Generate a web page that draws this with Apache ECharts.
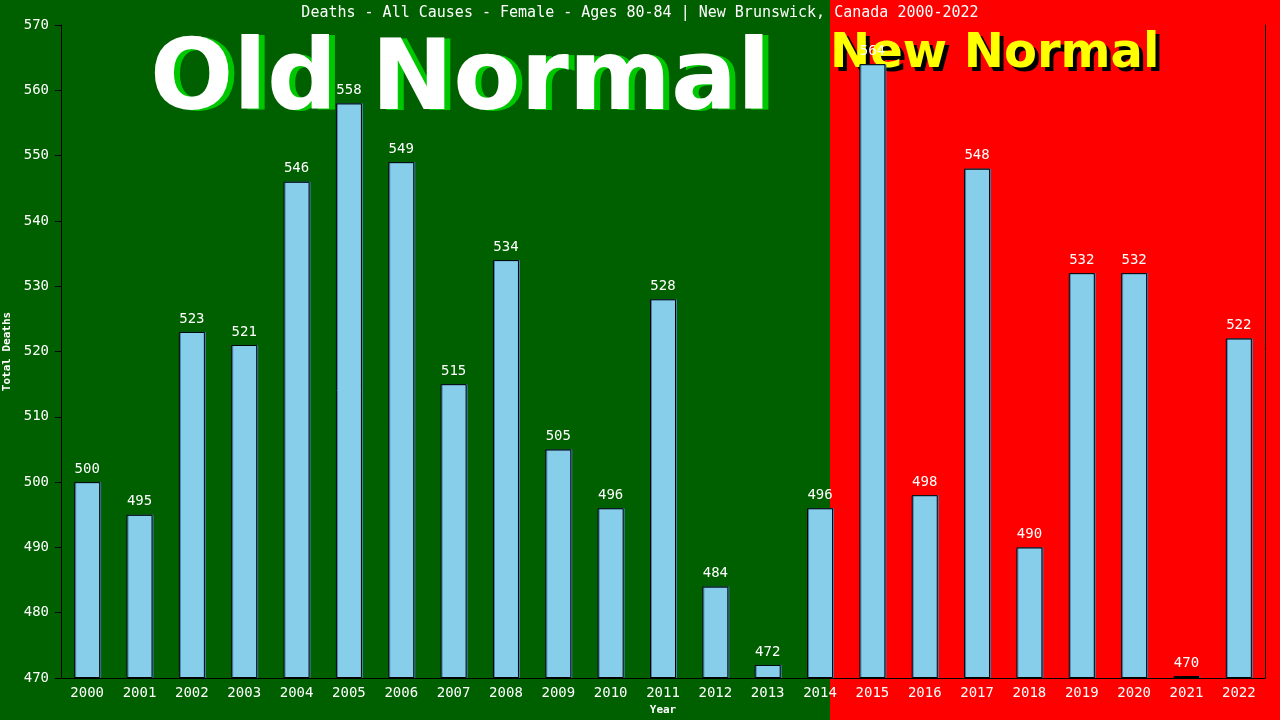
<!DOCTYPE html>
<html>
<head>
<meta charset="utf-8">
<script src="https://cdn.jsdelivr.net/npm/echarts@6/dist/echarts.min.js"></script>
<style>html,body{margin:0;padding:0;}#c{width:1280px;height:720px;}</style>
</head>
<body>
<div id="c"></div>
<script>
const titleText = 'Deaths - All Causes - Female - Ages 80-84 | New Brunswick, Canada 2000-2022';
const years = ['2000','2001','2002','2003','2004','2005','2006','2007','2008','2009','2010','2011','2012','2013','2014','2015','2016','2017','2018','2019','2020','2021','2022'];
const deaths = [500,495,523,521,546,558,549,515,534,505,496,528,484,472,496,564,498,548,490,532,532,470,522];
const yTicks = [470,480,490,500,510,520,530,540,550,560,570];

const yMin = yTicks[0], yMax = yTicks[yTicks.length-1];
const mono = '"DejaVu Sans Mono", "Liberation Mono", monospace';
const bigFont = '"DejaVu Sans", Verdana, sans-serif';
const chart = echarts.init(document.getElementById('c'));
chart.setOption({
  animation: false,
  backgroundColor: {
    type: 'linear', x: 0, y: 0, x2: 1, y2: 0,
    colorStops: [
      {offset: 0, color: '#006000'},
      {offset: 830/1280, color: '#006000'},
      {offset: 830/1280, color: '#ff0000'},
      {offset: 1, color: '#ff0000'}
    ]
  },
  title: {
    text: titleText, left: 'center', top: 1,
    textStyle: {color: '#fff', fontFamily: mono, fontSize: 15, fontWeight: 'normal'}
  },
  graphic: [
    {type: 'text', left: 156, top: 36, z: 1,
     style: {text: 'Old Normal', fill: '#00c800', font: 'bold 98px ' + bigFont}},
    {type: 'text', left: 150, top: 35, z: 1,
     style: {text: 'Old Normal', fill: '#ffffff', font: 'bold 98px ' + bigFont}},
    {type: 'text', left: 834, top: 35, z: 1,
     style: {text: 'New Normal', fill: '#000000', font: 'bold 48px ' + bigFont}},
    {type: 'text', left: 830, top: 31, z: 1,
     style: {text: 'New Normal', fill: '#ffff00', font: 'bold 48px ' + bigFont}}
  ],
  grid: {left: 61, right: 15, top: 25, bottom: 42, containLabel: false, outerBoundsMode: 'none'},
  xAxis: {
    type: 'category', data: years,
    name: 'Year', nameLocation: 'middle', nameGap: 26,
    nameTextStyle: {color: '#fff', fontFamily: mono, fontSize: 11, fontWeight: 'bold'},
    axisLine: {lineStyle: {color: '#000', width: 1}},
    axisTick: {show: false},
    axisLabel: {color: '#fff', fontFamily: mono, fontSize: 14, margin: 8}
  },
  yAxis: [{
    type: 'value', min: yMin, max: yMax, interval: 10,
    name: 'Total Deaths', nameLocation: 'middle', nameGap: 42, nameRotate: 90,
    nameTextStyle: {color: '#fff', fontFamily: mono, fontSize: 11, fontWeight: 'bold'},
    axisLine: {show: true, lineStyle: {color: '#000', width: 1}},
    axisTick: {show: true, length: 6, lineStyle: {color: '#000'}},
    splitLine: {show: false},
    axisLabel: {color: '#fff', fontFamily: mono, fontSize: 14, margin: 12}
  }, {
    type: 'value', position: 'right', min: yMin, max: yMax, interval: 10,
    axisLine: {show: true, lineStyle: {color: '#000', width: 1}},
    axisTick: {show: false}, axisLabel: {show: false}, splitLine: {show: false}
  }],
  series: [{
    type: 'bar', stack: 'd', silent: true, barWidth: 26,
    data: years.map(() => yMin),
    itemStyle: {color: 'rgba(0,0,0,0)'}, label: {show: false}
  }, {
    type: 'bar', stack: 'd', barWidth: 26, z: 3, barMinHeight: 2,
    data: deaths.map(d => d - yMin),
    itemStyle: {color: '#87ceeb', borderColor: '#000', borderWidth: 1,
                shadowColor: '#4682b4', shadowOffsetX: 1, shadowOffsetY: 0, shadowBlur: 0},
    label: {show: true, position: 'top', distance: 6, color: '#fff', fontFamily: mono, fontSize: 14,
            formatter: p => String(deaths[p.dataIndex])}
  }]
});
</script>
</body>
</html>
